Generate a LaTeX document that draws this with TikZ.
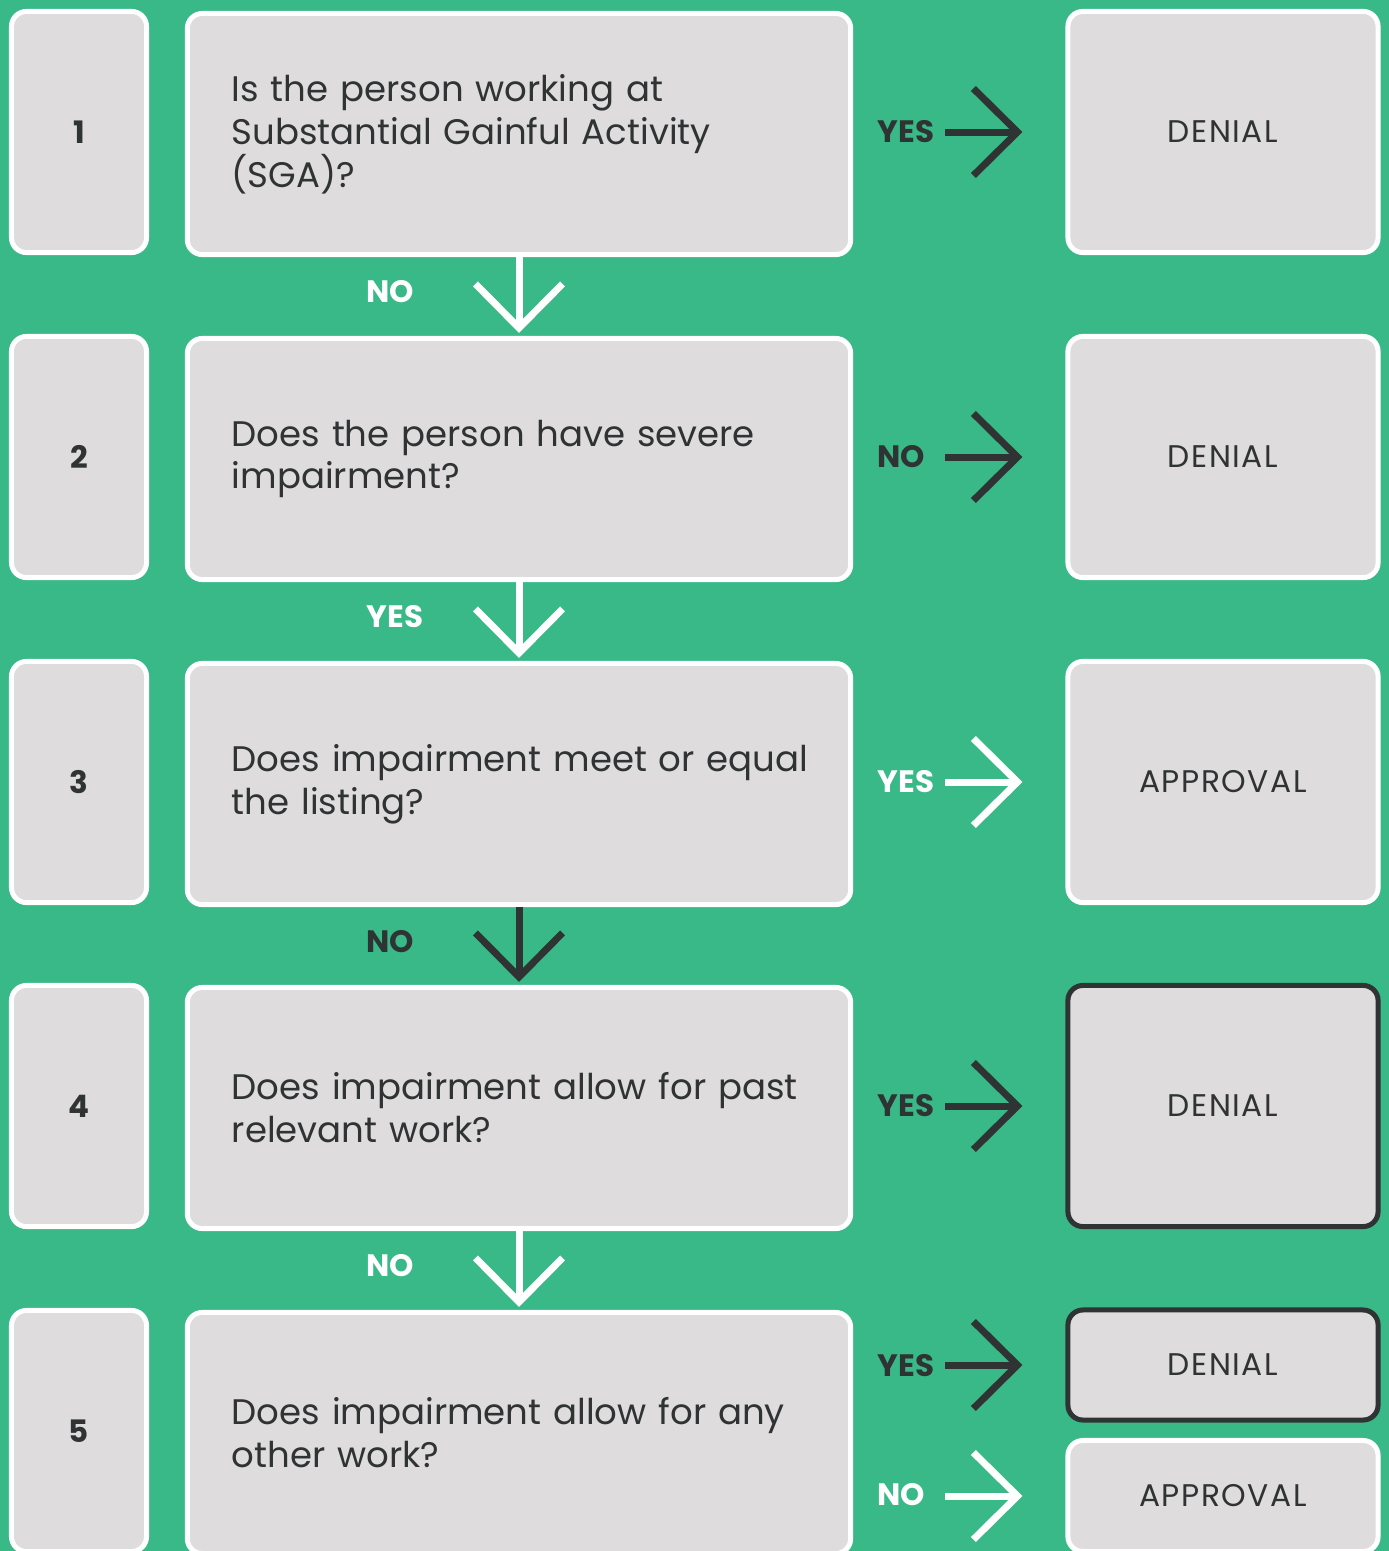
\documentclass[tikz,border=0pt]{standalone}
\usepackage{fontspec}
\setmainfont{Poppins}
\newfontfamily\spacedfont[LetterSpace=5]{Poppins}
\usetikzlibrary{arrows.meta}
\definecolor{bggreen}{HTML}{38B987}
\definecolor{boxgray}{HTML}{DEDCDD}
\definecolor{darkline}{HTML}{2F3333}

\begin{document}
\begin{tikzpicture}[x=0.01cm,y=-0.01cm]
 \tikzset{box/.style={draw=white,line width=0.05cm,fill=boxgray,rounded corners=0.15cm,
   inner sep=0pt,text=darkline},
  numbox/.style={box,minimum width=1.35cm,minimum height=2.41cm,font=\fontsize{8.8}{10}\selectfont\bfseries},
  qbox/.style={box,text width=5.74cm,inner xsep=0.445cm,minimum height=2.41cm,align=left,
   font=\fontsize{10.1}{12.2}\selectfont},
  rbox/.style={box,minimum width=3.1cm,minimum height=2.41cm,font=\spacedfont\fontsize{8.9}{10}\selectfont},
  lbl/.style={anchor=west,inner sep=0pt,font=\fontsize{8.8}{10}\selectfont\bfseries},
  downarrow/.style={line width=0.07cm,-{Straight Barb[length=0.44cm,width=0.87cm]},shorten >=0.03cm},
  rightarrow/.style={line width=0.07cm,-{Straight Barb[length=0.44cm,width=0.87cm]},
   shorten <=0.92cm,shorten >=0.43cm}}
 \fill[bggreen] (0,0) rectangle (1389,1551);
 \useasboundingbox (0,0) rectangle (1389,1551);

 % step numbers
 \node[numbox] (n1) at (79,132) {1};
 \node[numbox] (n2) at (79,457) {2};
 \node[numbox] (n3) at (79,782) {3};
 \node[numbox] (n4) at (79,1106) {4};
 \node[numbox] (n5) at (79,1431) {5};

 % questions
 \node[qbox] (q1) at (519,134) {Is the person working at\\Substantial Gainful Activity\\(SGA)?};
 \node[qbox] (q2) at (519,459) {Does the person have severe\\impairment?};
 \node[qbox] (q3) at (519,784) {\mbox{Does impairment meet or equal}\\the listing?};
 \node[qbox] (q4) at (519,1108) {Does impairment allow for past\\relevant work?};
 \node[qbox] (q5) at (519,1433) {Does impairment allow for any\\other work?};

 % outcomes
 \node[rbox] (r1) at (1223,132) {DENIAL};
 \node[rbox] (r2) at (1223,457) {DENIAL};
 \node[rbox] (r3) at (1223,782) {APPROVAL};
 \node[rbox,draw=darkline] (r4) at (1223,1106) {DENIAL};
 \node[rbox,draw=darkline,minimum height=1.1cm] (r5) at (1223,1365) {DENIAL};
 \node[rbox,minimum height=1.11cm] (r6) at (1223,1496) {APPROVAL};

 % labels
 \node[lbl,text=darkline] (yes1) at (877,132) {YES};
 \node[lbl,text=white] (no1) at (366,292) {NO};
 \node[lbl,text=darkline] (no2) at (877,457) {NO};
 \node[lbl,text=white] (yes2) at (366,617) {YES};
 \node[lbl,text=white] (yes3) at (877,782) {YES};
 \node[lbl,text=darkline] (no3) at (366,942) {NO};
 \node[lbl,text=darkline] (yes4) at (877,1106) {YES};
 \node[lbl,text=white] (no4) at (366,1266) {NO};
 \node[lbl,text=darkline] (yes5) at (877,1366) {YES};
 \node[lbl,text=white] (no5) at (877,1495) {NO};

 \draw[rightarrow,darkline] (r1.west -| q1.east) -- (r1.west);
 \draw[downarrow,white] (q1.south) -- (q2.north);
 \draw[rightarrow,darkline] (r2.west -| q2.east) -- (r2.west);
 \draw[downarrow,white] (q2.south) -- (q3.north);
 \draw[rightarrow,white] (r3.west -| q3.east) -- (r3.west);
 \draw[downarrow,darkline] (q3.south) -- (q4.north);
 \draw[rightarrow,darkline] (r4.west -| q4.east) -- (r4.west);
 \draw[downarrow,white] (q4.south) -- (q5.north);
 \draw[rightarrow,darkline] (r5.west -| q5.east) -- (r5.west);
 \draw[rightarrow,white] (r6.west -| q5.east) -- (r6.west);
\end{tikzpicture}
\end{document}
